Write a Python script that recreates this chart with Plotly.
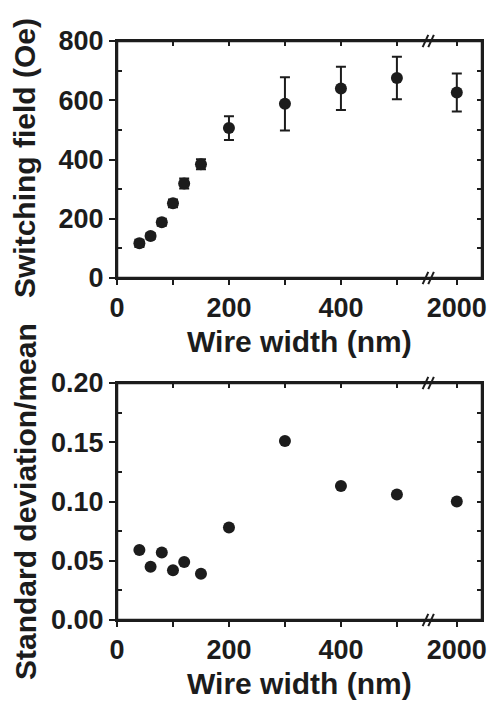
import plotly.graph_objects as go

# ---------------- data ----------------
wire_width_nm = [40, 60, 80, 100, 120, 150, 200, 300, 400, 500, 2000]
switching_field_oe = [117, 142, 188, 252, 319, 384, 506, 588, 640, 675, 626]
switching_field_err = [12, 10, 12, 13, 17, 17, 40, 90, 73, 72, 64]
std_over_mean = [0.059, 0.045, 0.057, 0.042, 0.049, 0.039, 0.078, 0.151, 0.113, 0.106, 0.100]

x_tick_values = [0, 100, 200, 300, 400, 500, 2000]
x_tick_labels = ["0", "", "200", "", "400", "", "2000"]
field_ticks = [0, 200, 400, 600, 800]
ratio_ticks = [0.00, 0.05, 0.10, 0.15, 0.20]

# ---------------- broken x axis mapping ----------------
BREAK_AT = 556          # axis position of the "//" break
HIGH_SEG_POS = 607      # axis position where the 2000 nm value sits
X_RANGE = [0, 652]


def to_axis(w):
    return w if w < BREAK_AT else HIGH_SEG_POS + (w - 2000) * 0.05


xpos = [to_axis(w) for w in wire_width_nm]
xtickpos = [to_axis(w) for w in x_tick_values]

W, H = 491, 702
INK = "#1c1c1c"
FONT = "Liberation Sans"

xdom = [117 / W, 482 / W]
ydom_top = [1 - 278 / H, 1 - 41 / H]
ydom_bot = [1 - 620 / H, 1 - 383 / H]

tickfont = dict(family=FONT, size=27, color=INK, weight="bold")
titlefont = dict(family=FONT, size=30, color=INK, weight="bold")

fig = go.Figure()

fig.add_trace(go.Scatter(
    x=xpos, y=switching_field_oe, mode="markers",
    marker=dict(size=12, color=INK),
    error_y=dict(type="data", array=switching_field_err, visible=True,
                 color=INK, thickness=2, width=5),
    xaxis="x", yaxis="y", showlegend=False))

fig.add_trace(go.Scatter(
    x=xpos, y=std_over_mean, mode="markers",
    marker=dict(size=12, color=INK),
    xaxis="x2", yaxis="y2", showlegend=False))

# empty traces so the mirrored tick axes (top / right) get drawn
for xa, ya in (("x3", "y"), ("x", "y3"), ("x4", "y2"), ("x2", "y4")):
    fig.add_trace(go.Scatter(x=[None], y=[None], xaxis=xa, yaxis=ya,
                             showlegend=False, hoverinfo="skip"))

common_x = dict(range=X_RANGE, showgrid=False, zeroline=False,
                automargin=False, tickfont=tickfont)


def bottom_x(anchor, domain):
    return dict(common_x, domain=domain, anchor=anchor,
                tickmode="array", tickvals=xtickpos, ticktext=x_tick_labels,
                ticks="outside", ticklen=5, tickwidth=2, tickcolor=INK,
                showline=True, linewidth=2, linecolor=INK, mirror=True)


def top_x(overlay, anchor):
    return dict(common_x, overlaying=overlay, anchor=anchor, side="top",
                tickmode="array", tickvals=xtickpos[1:],
                ticks="inside", ticklen=5, tickwidth=2, tickcolor=INK,
                showticklabels=False, showline=True, linewidth=2, linecolor=INK)


def left_y(anchor, domain, rng, majors, minors, fmt):
    return dict(domain=domain, anchor=anchor, range=rng,
                tickmode="array", tickvals=majors, tickformat=fmt,
                ticks="outside", ticklen=6, tickwidth=2, tickcolor=INK,
                minor=dict(tickmode="array", tickvals=minors, ticks="inside",
                           ticklen=5, tickwidth=2, tickcolor=INK),
                showline=True, linewidth=2, linecolor=INK, mirror=True,
                showgrid=False, zeroline=False, automargin=False,
                tickfont=tickfont)


def right_y(overlay, anchor, rng, vals):
    return dict(overlaying=overlay, anchor=anchor, side="right", range=rng,
                tickmode="array", tickvals=vals,
                ticks="inside", ticklen=5, tickwidth=2, tickcolor=INK,
                showticklabels=False, showline=True, linewidth=2, linecolor=INK,
                showgrid=False, zeroline=False, automargin=False)


field_minor = [100, 300, 500, 700]
ratio_minor = [0.025, 0.075, 0.125, 0.175]

fig.update_layout(
    width=W, height=H,
    margin=dict(l=0, r=0, t=0, b=0),
    paper_bgcolor="white", plot_bgcolor="white",
    xaxis=bottom_x("y", xdom),
    yaxis=left_y("x", ydom_top, [0, 800], field_ticks, field_minor, "d"),
    xaxis3=top_x("x", "y"),
    yaxis3=right_y("y", "x", [0, 800], sorted(field_ticks[1:-1] + field_minor)),
    xaxis2=bottom_x("y2", xdom),
    yaxis2=left_y("x2", ydom_bot, [0, 0.2], ratio_ticks, ratio_minor, ".2f"),
    xaxis4=top_x("x2", "y2"),
    yaxis4=right_y("y2", "x2", [0, 0.2], sorted(ratio_ticks[1:-1] + ratio_minor)),
)

# frame around each panel
for xr, yr in (("x domain", "y domain"), ("x2 domain", "y2 domain")):
    fig.add_shape(type="rect", xref=xr, yref=yr, x0=0, x1=1, y0=0, y1=1,
                  line=dict(color=INK, width=2.5), fillcolor="rgba(0,0,0,0)",
                  layer="above")

# axis titles
ann = dict(showarrow=False, xref="paper", yref="paper", font=titlefont,
           xanchor="center", yanchor="middle")
fig.add_annotation(ann, text="Switching field (Oe)", x=25 / W, y=1 - 158 / H, textangle=-90)
fig.add_annotation(ann, text="Standard deviation/mean", x=25 / W, y=1 - 502 / H, textangle=-90)
fig.add_annotation(ann, text="Wire width (nm)", x=299.5 / W, y=1 - 341 / H)
fig.add_annotation(ann, text="Wire width (nm)", x=299.5 / W, y=1 - 683 / H)

# "//" axis-break marks on top and bottom edges of both panels
for xr, yr in (("x", "y domain"), ("x2", "y2 domain")):
    for yedge in (0, 1):
        for cx in (BREAK_AT - 5, BREAK_AT + 5):
            fig.add_shape(type="line", xref=xr, yref=yr,
                          x0=cx - 5, x1=cx + 5, y0=yedge - 0.026, y1=yedge + 0.026,
                          line=dict(color=INK, width=2), layer="above")

fig.write_html(
    "out.html",
    config={"displayModeBar": False},
    post_script="document.body.style.margin='0';document.body.style.overflow='hidden';",
)
